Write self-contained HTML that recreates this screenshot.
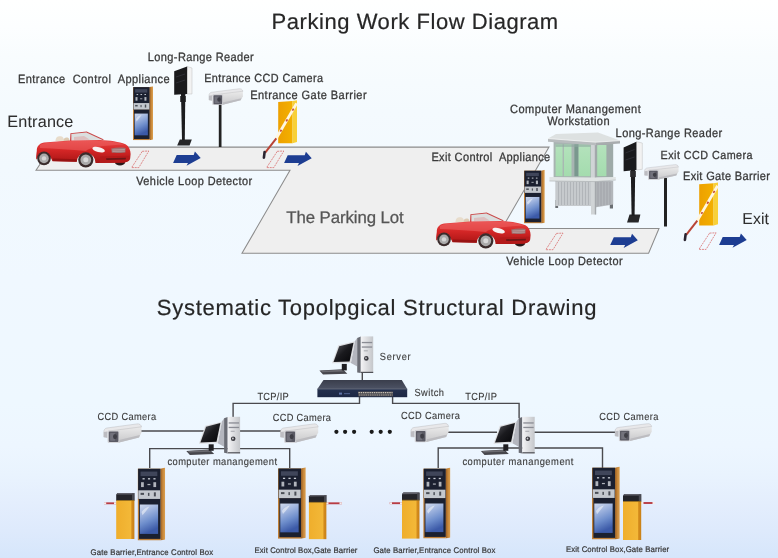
<!DOCTYPE html>
<html><head><meta charset="utf-8"><style>
html,body{margin:0;padding:0;background:#fff;}
svg{display:block;will-change:transform;}
text{font-family:"Liberation Sans",sans-serif;white-space:pre;text-rendering:geometricPrecision;}
</style></head><body>
<svg width="778" height="558" viewBox="0 0 778 558">
<defs>
<linearGradient id="bg" x1="0" y1="0" x2="0" y2="1">
 <stop offset="0" stop-color="#ffffff"/>
 <stop offset="0.05" stop-color="#fcfeff"/>
 <stop offset="0.1" stop-color="#f8fcfe"/>
 <stop offset="0.2" stop-color="#f4fafe"/>
 <stop offset="0.3" stop-color="#f2f9fe"/>
 <stop offset="0.5" stop-color="#f0f8ff"/>
 <stop offset="0.72" stop-color="#eef8ff"/>
 <stop offset="0.8" stop-color="#edf6ff"/>
 <stop offset="0.85" stop-color="#e9f3fe"/>
 <stop offset="0.9" stop-color="#e4eefd"/>
 <stop offset="0.95" stop-color="#deeafc"/>
 <stop offset="1" stop-color="#d6e6fb"/>
</linearGradient>
<linearGradient id="wood" x1="0" y1="0" x2="1" y2="0">
 <stop offset="0" stop-color="#9a5e22"/>
 <stop offset="0.5" stop-color="#c8883a"/>
 <stop offset="1" stop-color="#dca050"/>
</linearGradient>
<linearGradient id="scr" x1="0" y1="0" x2="0.3" y2="1">
 <stop offset="0" stop-color="#d0daee"/>
 <stop offset="0.3" stop-color="#a4b8e0"/>
 <stop offset="0.65" stop-color="#6e8ecc"/>
 <stop offset="1" stop-color="#3c5aa8"/>
</linearGradient>
<linearGradient id="silver" x1="0" y1="0" x2="1" y2="0">
 <stop offset="0" stop-color="#f4f4f6"/>
 <stop offset="1" stop-color="#c4c6ca"/>
</linearGradient>
<linearGradient id="monscr" x1="0" y1="0" x2="1" y2="1">
 <stop offset="0" stop-color="#5a5a60"/>
 <stop offset="0.5" stop-color="#1a1a1e"/>
 <stop offset="1" stop-color="#050508"/>
</linearGradient>
<linearGradient id="camg" x1="0" y1="0" x2="0" y2="1">
 <stop offset="0" stop-color="#eeeeee"/>
 <stop offset="1" stop-color="#c8c8ca"/>
</linearGradient>
<linearGradient id="yel" x1="0" y1="0" x2="1" y2="0">
 <stop offset="0" stop-color="#eda000"/>
 <stop offset="1" stop-color="#f3b000"/>
</linearGradient>
<linearGradient id="yelB" x1="0" y1="0" x2="1" y2="0">
 <stop offset="0" stop-color="#efae2c"/>
 <stop offset="0.8" stop-color="#f3b838"/>
 <stop offset="0.86" stop-color="#d48c1c"/>
 <stop offset="1" stop-color="#c88018"/>
</linearGradient>
<linearGradient id="carbody" x1="0" y1="0" x2="0" y2="1">
 <stop offset="0" stop-color="#e84848"/>
 <stop offset="0.45" stop-color="#d42626"/>
 <stop offset="1" stop-color="#a81414"/>
</linearGradient>
<linearGradient id="glass" x1="0" y1="0" x2="0" y2="1">
 <stop offset="0" stop-color="#b4e2bc"/>
 <stop offset="1" stop-color="#a4dcae"/>
</linearGradient>
<linearGradient id="swtop" x1="0" y1="0" x2="0" y2="1">
 <stop offset="0" stop-color="#3a3e4c"/>
 <stop offset="1" stop-color="#4c5264"/>
</linearGradient>
<linearGradient id="swfront" x1="0" y1="0" x2="0" y2="1">
 <stop offset="0" stop-color="#24304e"/>
 <stop offset="1" stop-color="#1c2744"/>
</linearGradient>

<!-- control box symbol, 28 x 72 -->
<symbol id="ctrl" viewBox="0 0 28 72" preserveAspectRatio="none">
 <polygon points="23.2,1.2 28,0 28,71 23.2,72" fill="url(#wood)"/>
 <rect x="0" y="1.2" width="23.2" height="70.8" fill="#c08038"/>
 <rect x="0.5" y="1.2" width="22.7" height="30" fill="#1b2030"/>
 <rect x="1.4" y="31" width="21.8" height="39.4" fill="#1b2030"/>
 <rect x="3" y="4" width="17" height="4.5" fill="#40465a"/>
 <rect x="5" y="10.5" width="2.2" height="1.3" fill="#c8ccd4"/>
 <rect x="10.5" y="10.5" width="2.2" height="1.3" fill="#c8ccd4"/>
 <rect x="16" y="10.5" width="2.2" height="1.3" fill="#c8ccd4"/>
 <rect x="3.5" y="14.5" width="2.8" height="4.8" fill="#b0b4bc"/>
 <rect x="10" y="16.2" width="3" height="1.2" fill="#b0b4bc"/>
 <rect x="16" y="14.5" width="2.8" height="4.8" fill="#b0b4bc"/>
 <rect x="0.7" y="22.5" width="22.1" height="8.5" fill="#c4c8ce"/>
 <rect x="3" y="25" width="3.5" height="2" fill="#4a4e56"/>
 <rect x="10.5" y="25" width="1.5" height="3" fill="#4a4e56"/>
 <rect x="16.5" y="24.5" width="2" height="4" fill="#4a4e56"/>
 <rect x="2.3" y="36.5" width="18.5" height="29" fill="url(#scr)"/>
 <path d="M4,44 C6,41 9,39 12,38.5 C10,41 8,44 5,47 Z" fill="#eef2f8" opacity="0.6"/>
</symbol>

<!-- blue arrow, origin at bbox left/top -->
<path id="arrow" d="M3.6,3.1 L20.6,3.1 L21.8,-0.4 L27.6,6 L13.4,13.8 L14.9,10.9 L0,10.9 Z" fill="#1d3d92"/>

<!-- loop detector -->
<g id="loop">
 <path d="M10.7,0 L17.2,-0.3 L7.2,16.3 L0,16.3 Z" fill="none" stroke="#d86a6a" stroke-width="0.9" stroke-dasharray="2,0.8" opacity="0.85"/>
</g>

<!-- car, in absolute coords of car 1 -->
<g id="car">
 <!-- far-side front wheel -->
 <ellipse cx="120" cy="162.5" rx="5" ry="3" fill="#2a1a1a"/>
 <!-- seats -->
 <path d="M55.5,141 C55.5,137 58,135.8 61,136.2 C63,136.6 64,138 64,141 Z" fill="#e8dccb"/>
 <path d="M63.5,141 C63.5,138 65.5,137.2 67.5,137.6 C69,138 69.5,139.5 69.5,141 Z" fill="#dccab2"/>
 <!-- windshield glass -->
 <path d="M71.5,133.8 L86.5,132.4 L103,139.8 L71.5,140.6 Z" fill="#d8dcdc" opacity="0.9"/>
 <path d="M74,137 L84,136 L90,139.8 L74,140.2 Z" fill="#e0a0a0" opacity="0.5"/>
 <!-- windshield frame -->
 <path d="M70,141 L70.4,133.2 L86.7,131.6 L104,139.6 L102.6,139.9 L86.3,132.6 L71.4,134 L71.4,141 Z" fill="#c84848"/>
 <!-- body -->
 <path d="M36.8,151 C36.8,146.5 39,143.6 44,142.6 L70,140.4 L100,140 C110,140.4 119,141.8 125.5,144.2 C129,146.3 130.6,150 130.6,154 L130.2,158.5 C129.6,161 127,162.4 123,162.8 L95.5,163 A9.2,9.2 0 0 0 76.6,161.8 L52.5,161.2 A8.8,8.8 0 0 0 36.2,159.8 C36,157 36.4,153.5 36.8,151 Z" fill="url(#carbody)"/>
 <!-- top highlight (rear deck + hood) -->
 <path d="M40,145 C42,143.5 45,142.9 50,142.4 L70,141 L100,140.8 C110,141.2 118,142.4 124,144.6 C118,145 108,145.4 100,146.5 C92,147.5 88,149 86,151 C70,149.5 55,148.5 40,148 Z" fill="#ee6262" opacity="0.55"/>
 <!-- lower sill -->
 <path d="M53,158.5 L77,159.3 L76.8,161.7 L52.6,161.1 Z" fill="#981212"/>
 <!-- headlight -->
 <ellipse cx="98.6" cy="149.6" rx="6.4" ry="2.5" fill="#f6f2f2" transform="rotate(14 98.6 149.6)"/>
 <!-- grille -->
 <path d="M111.2,148.4 C116,147.4 121,147.3 125.6,148 L125.4,152.4 C121,153 116,153.1 111.8,152.8 Z" fill="#a07070"/>
 <path d="M112.3,150 L124.8,149.5 M112.5,151.4 L124.8,151.1" stroke="#d0c4c4" stroke-width="0.5"/>
 <!-- front lower intake -->
 <path d="M100,156.5 L129.8,155.8 L129.4,159.6 C128,161.5 126,162.3 123,162.6 L100,162.8 Z" fill="#b41a1a"/>
 <path d="M106,158.2 L126,157.8 L125.6,159.6 L106.4,160 Z" fill="#6c1616"/>
 <!-- wheels -->
 <circle cx="44" cy="158.4" r="6.8" fill="#3a2c2c"/>
 <circle cx="44" cy="158.4" r="4.8" fill="#aaaaaa"/>
 <circle cx="44" cy="158.4" r="2.2" fill="#d6d6d6"/>
 <circle cx="85.8" cy="159.8" r="7.6" fill="#3a2c2c"/>
 <circle cx="85.8" cy="159.8" r="5.4" fill="#aaaaaa"/>
 <circle cx="85.8" cy="159.8" r="2.5" fill="#d8d8d8"/>
</g>

<!-- CCD camera housing, 38 x 19 -->
<g id="cam">
 <path d="M4.2,7 L35,1.6 L38,3.2 L38,9 L35.5,13.8 L15.5,19 L4.3,19 Z" fill="url(#camg)"/>
 <path d="M15.5,16.5 L36.5,11.5 L35.5,13.8 L15.5,19 Z" fill="#bcbcc0"/>
 <path d="M0.3,13.5 L0.3,8.4 C0.3,6.3 1.3,4.8 3.3,4.4 L33.6,0.3 C35.8,0 37.6,1 38,3.4 L36.5,3.4 L5.5,7.4 C4.2,7.7 3.6,9 3.6,10.5 L3.6,14 Z" fill="#e8e8ea" stroke="#b0b0b4" stroke-width="0.4"/>
 <path d="M0.3,8.5 L3.6,8 L3.6,14 L0.3,13.5 Z" fill="#bdbdc2"/>
 <rect x="4.3" y="6.8" width="11.6" height="12.4" rx="1.2" fill="#d2d2d6"/>
 <rect x="5.3" y="8" width="9.6" height="10.4" rx="0.8" fill="#5a5a64"/>
 <rect x="6.6" y="9.3" width="5" height="7.8" rx="0.6" fill="#72727c"/>
 <ellipse cx="11.5" cy="13" rx="2" ry="2.6" fill="#3e3e46"/>
</g>

<!-- PC, origin = tower front top-left -->
<g id="pc">
 <polygon points="-41.4,34.1 -18,32.8 -13.5,37.3 -37.8,38.2" fill="#46464c"/>
 <polygon points="-40,34.3 -18.5,33.3 -17,35 -38.5,35.8" fill="#6a6a70"/>
 <rect x="-19" y="27.5" width="5" height="6.5" fill="#1e1e22"/>
 <polygon points="-5.9,4.9 -3.6,1.5 -3.6,30 -9.9,26.5" fill="#b4b6be"/>
 <polygon points="-28.8,26.9 -22.5,8.9 -5.9,4.9 -9.9,26.5" fill="#dcdde0"/>
 <polygon points="-27.3,25.7 -21.6,9.9 -7.3,6.3 -11.2,25" fill="url(#monscr)"/>
 <polygon points="-3.6,1.5 0,0.2 0,36.6 -3.6,36" fill="#6a6c74"/>
 <rect x="0" y="0" width="12.4" height="36.6" fill="url(#silver)"/>
 <rect x="1" y="5.5" width="10.4" height="1.3" fill="#8a8c94"/>
 <rect x="1" y="10" width="10.4" height="1.3" fill="#8a8c94"/>
 <rect x="3" y="14" width="4" height="0.9" fill="#a0a2a8"/>
 <circle cx="5.5" cy="22" r="2.3" fill="#3a3a40"/>
 <circle cx="5.2" cy="21.7" r="0.9" fill="#d0d0d4"/>
 <rect x="0" y="35.4" width="12.4" height="1.2" fill="#505258"/>
</g>

<!-- top gate barrier (entrance) -->
<g id="gateT">
 <polygon points="278.2,102 292.6,101 292.6,143.2 278.2,143.2" fill="url(#yel)"/>
 <polygon points="292.6,101 297,100.2 297,142 292.6,143.2" fill="#f8d038"/>
 <path d="M296.6,103.4 L276,138.8" stroke="#fff6e0" stroke-width="2.8"/>
 <path d="M293.6,108.6 L292.4,110.6 M287.4,119.4 L286.2,121.4 M281.4,129.8 L280.4,131.6" stroke="#c85038" stroke-width="1.8"/>
 <path d="M276.3,138.4 L265.2,152.6" stroke="#b84436" stroke-width="2"/>
 <path d="M264.6,152 L263.9,157.6" stroke="#2a2430" stroke-width="2.6" stroke-linecap="round"/>
</g>

<!-- bottom gate barrier cabinet, origin top-left of cap, 19 x 46 -->
<g id="gateB">
 <rect x="0" y="7.6" width="18.2" height="38.4" fill="url(#yelB)"/>
 <polygon points="0,1.6 1.5,0 18.2,0 18.2,7.6 0,7.6" fill="#24242a"/>
 <polygon points="0,1.6 1.5,0 18.2,0 17.7,1.4" fill="#60606a"/>
 <rect x="15.8" y="0.5" width="2.4" height="7" fill="#4a4a52"/>
 <rect x="0" y="7.2" width="18.2" height="0.8" fill="#a07010"/>
</g>
</defs>

<rect x="0" y="0" width="778" height="558" fill="url(#bg)"/>

<!-- road -->
<polygon points="36,170.3 51.4,147.1 549,147.1 502,228.4 659,228.4 648.6,253.3 242,253.3 290,170.3" fill="#efefef" stroke="#8c8c8c" stroke-width="1.05" stroke-linejoin="miter"/>

<!-- loop detectors -->
<use href="#loop" x="131.6" y="151.3"/>
<use href="#loop" x="266.6" y="151.3"/>
<use href="#loop" x="545.8" y="233.4"/>
<use href="#loop" x="698.9" y="233.1"/>

<!-- arrows -->
<use href="#arrow" x="173.1" y="152"/>
<use href="#arrow" x="284.1" y="152.2"/>
<use href="#arrow" x="610.2" y="234.2"/>
<use href="#arrow" x="719.1" y="234"/>

<!-- entrance control appliance -->
<use href="#ctrl" x="133" y="86.2" width="20" height="54"/>

<!-- long range reader entrance -->
<g>
 <polygon points="177.2,145.6 179.8,139.4 191.8,139.4 189.6,145.6" fill="#262628"/>
 <rect x="180.2" y="96" width="5.6" height="6" fill="#2a2a2c"/>
 <polygon points="181,94 185.3,94 184.8,140 182,140" fill="#1c1c1e"/>
 <polygon points="187.1,66.5 192,68 192,94 187.1,94" fill="#f2f2f2" stroke="#b0b0b0" stroke-width="0.4"/>
 <polygon points="174.2,71.3 187.1,66.5 187.1,94 174.2,94.7" fill="#1a1a1c"/>
 <path d="M176,77 L185,74 M176,83 L185,80" stroke="#3c3c44" stroke-width="0.6"/>
</g>

<!-- entrance camera -->
<rect x="218.8" y="103" width="2.7" height="44" fill="#222"/>
<use href="#cam" transform="translate(208.7,88.5) scale(0.9,0.85)"/>

<!-- entrance gate -->
<use href="#gateT"/>

<!-- car 1 -->
<use href="#car"/>

<!-- booth -->
<g>
 <!-- legs -->
 <rect x="555.3" y="200" width="2.8" height="8" fill="#6a6e72"/>
 <rect x="609.8" y="200" width="3.2" height="8.5" fill="#6a6e72"/>
 <!-- lower body -->
 <rect x="555.3" y="181" width="37" height="25" fill="#c6cacd"/>
 <polygon points="594.5,181 613.2,181 613.2,204.5 594.5,207.5" fill="#b2b6ba"/>
 <path d="M558.5,182 V205 M561.5,182 V205 M564.5,182 V205 M567.5,182 V205 M570.5,182 V205 M573.5,182 V205 M576.5,182 V205 M579.5,182 V205 M582.5,182 V205 M585.5,182 V205 M588.5,182 V205" stroke="#a8acb0" stroke-width="0.7"/>
 <path d="M598,182 V206 M601,182 V206 M604,182 V205 M607,182 V205 M610,182 V204.5" stroke="#989ca0" stroke-width="0.7"/>
 <!-- upper body -->
 <rect x="553.6" y="142" width="41" height="36" fill="#a8b4b2"/>
 <polygon points="594.5,142 613.2,142 613.2,177.5 594.5,177.8" fill="#9eaaa8"/>
 <rect x="555.6" y="144.4" width="7" height="31.8" fill="url(#glass)"/>
 <rect x="563.9" y="144.4" width="7.6" height="31.8" fill="url(#glass)"/>
 <rect x="574.4" y="144.4" width="4.2" height="31.8" fill="#7a988e"/>
 <rect x="578.6" y="144.4" width="11.8" height="31.8" fill="url(#glass)"/>
 <rect x="597.2" y="145" width="9.2" height="31.2" fill="url(#glass)"/>
 <rect x="555.6" y="144.4" width="35" height="2.5" fill="#8ea8a0" opacity="0.6"/>
 <!-- corner post -->
 <rect x="591" y="142" width="5" height="72.5" fill="#d0d4d6"/>
 <rect x="594.8" y="142" width="1.4" height="72.5" fill="#a4a8ac"/>
 <!-- ledge -->
 <polygon points="549.4,177 596,177.6 615.8,177 615.8,180 596,181.6 549.4,181" fill="#e0e4e4"/>
 <path d="M549.4,181 L596,181.6 L615.8,180" stroke="#a8acae" stroke-width="0.6" fill="none"/>
 <!-- roof -->
 <polygon points="548,138.5 556,134 598,132.6 620,140.6 596,142.2" fill="#dde1e1"/>
 <polygon points="548,138.5 596,142.2 596,145.2 548,141.8" fill="#b8bcbe"/>
 <polygon points="596,142.2 620,140.6 620,143.6 596,145.2" fill="#a8acae"/>
 <path d="M548,138.5 L596,142.2 L620,140.6" stroke="#f2f4f4" stroke-width="0.8" fill="none"/>
</g>

<!-- exit control appliance -->
<use href="#ctrl" x="524" y="169.8" width="20.8" height="53.6"/>

<!-- car 2 -->
<use href="#car" transform="translate(400,81)"/>

<!-- exit long range reader -->
<g>
 <polygon points="627,222.5 629.5,214.6 640.4,214.6 638.5,222.5" fill="#262628"/>
 <polygon points="630.8,170 635.2,170 634.6,216 631.6,216" fill="#1c1c1e"/>
 <rect x="630.2" y="171" width="5.6" height="6" fill="#2a2a2c"/>
 <polygon points="636.4,141.7 642.3,143 642.3,169.3 636.4,169.9" fill="#f2f2f2" stroke="#b0b0b0" stroke-width="0.4"/>
 <polygon points="623.6,147.6 636.4,141.7 636.4,169.9 623.6,171.3" fill="#1a1a1c"/>
 <path d="M625.5,153 L634.5,149.5 M625.5,160 L634.5,157" stroke="#3c3c44" stroke-width="0.6"/>
</g>

<!-- exit camera -->
<rect x="664" y="178" width="3" height="48.5" fill="#222"/>
<use href="#cam" transform="translate(644.3,164.4) scale(0.9,0.8)"/>

<!-- exit gate -->
<use href="#gateT" transform="translate(421,82.3)"/>

<!-- ======== bottom section ======== -->
<g stroke="#4a4a4e" stroke-width="1.4" fill="none">
 <!-- switch to computers -->
 <polyline points="359.5,397 359.5,403.4 233.1,403.4 233.1,418"/>
 <polyline points="392.6,397 392.6,403.4 519.1,403.4 519.1,418"/>
 <!-- server to switch -->
 <line x1="362.3" y1="372" x2="362.3" y2="380.5"/>
 <!-- computer 1 to cameras -->
 <line x1="141" y1="431" x2="204" y2="431"/>
 <line x1="239" y1="431" x2="281" y2="431"/>
 <!-- computer 1 to boxes -->
 <polyline points="149.7,468 149.7,448.6 289.7,448.6 289.7,468"/>
 <!-- computer 2 -->
 <line x1="448" y1="432.2" x2="497" y2="432.2"/>
 <line x1="534" y1="432.2" x2="615" y2="432.2"/>
 <polyline points="438.2,468 438.2,448 602.5,448 602.5,468"/>
</g>

<!-- dots -->
<g fill="#1a1a1a">
 <circle cx="336.4" cy="431.8" r="2.1"/>
 <circle cx="345.1" cy="431.8" r="2.1"/>
 <circle cx="354.1" cy="431.8" r="2.1"/>
 <circle cx="371.7" cy="431.8" r="2.1"/>
 <circle cx="380.7" cy="431.8" r="2.1"/>
 <circle cx="389.8" cy="431.8" r="2.1"/>
</g>

<!-- switch -->
<g>
 <polygon points="323.5,380.1 401.8,380.1 407.2,389 317.4,389" fill="url(#swtop)"/>
 <rect x="317.4" y="389" width="89.8" height="8.2" fill="url(#swfront)"/>
 <rect x="317.4" y="388.6" width="89.8" height="0.8" fill="#6a7080"/>
 <rect x="358" y="391.4" width="35" height="5" fill="#4a4a50"/>
 <path d="M358.5,392.6 H392.5" stroke="#c8c0b4" stroke-width="1.2" stroke-dasharray="1.4,0.8"/>
 <path d="M359,395 H392.5" stroke="#a8a098" stroke-width="1.2" stroke-dasharray="1.4,0.8"/>
 <rect x="339" y="392.6" width="3" height="2" fill="#7088c0" opacity="0.8"/>
 <rect x="344" y="393" width="6" height="1.2" fill="#5a6ea0" opacity="0.7"/>
</g>

<!-- computers -->
<use href="#pc" transform="translate(360.8,336.4)"/>
<use href="#pc" transform="translate(227.7,416.8)"/>
<use href="#pc" transform="translate(522.3,416.8)"/>

<!-- cameras bottom -->
<use href="#cam" transform="translate(103.5,423.6)"/>
<use href="#cam" transform="translate(280.2,423.6)"/>
<use href="#cam" transform="translate(410.6,423.1)"/>
<use href="#cam" transform="translate(614.8,423.4) scale(0.97,0.93)"/>

<!-- control boxes bottom -->
<use href="#ctrl" x="137.6" y="467.5" width="27.6" height="73"/>
<use href="#ctrl" x="278" y="467.3" width="27.8" height="71.5"/>
<use href="#ctrl" x="423.2" y="467.5" width="27.2" height="71"/>
<use href="#ctrl" x="592" y="466.5" width="27.8" height="73"/>

<!-- gate barriers bottom -->
<path d="M104,503.3 H116.5" stroke="#b83c44" stroke-width="1.9"/>
<path d="M104,503.3 H106.2 M114,503.3 H116.5" stroke="#f4ecec" stroke-width="1.9"/>
<use href="#gateB" transform="translate(116.2,493)"/>
<path d="M326,503.3 H341.8" stroke="#b83c44" stroke-width="1.9"/>
<path d="M326,503.3 H328.5 M339.5,503.3 H341.8" stroke="#f4ecec" stroke-width="1.9"/>
<use href="#gateB" transform="translate(308.9,495) scale(0.96,0.96)"/>
<path d="M389.7,503.2 H402.5" stroke="#b83c44" stroke-width="1.9"/>
<path d="M389.7,503.2 H392 M400,503.2 H402.5" stroke="#f4ecec" stroke-width="1.9"/>
<use href="#gateB" transform="translate(402,492.6) scale(0.96,1)"/>
<path d="M641,503 H655" stroke="#b83c44" stroke-width="1.9"/>
<path d="M641,503 H643.5 M652.5,503 H655" stroke="#f4ecec" stroke-width="1.9"/>
<use href="#gateB" transform="translate(623,494) scale(1.0,1)"/>

<g transform="translate(271.60,29.3) scale(1.0,1)"><text x="0" y="0" font-size="22" fill="#262626" stroke="#262626" stroke-width="0.2" textLength="286.60" lengthAdjust="spacing">Parking Work Flow Diagram</text></g>
<g transform="translate(147.80,60.6) scale(0.92,1)"><text x="0" y="0" font-size="12" fill="#3a3a3a" stroke="#3a3a3a" stroke-width="0.3" textLength="115.22" lengthAdjust="spacing">Long-Range Reader</text></g>
<g transform="translate(18.00,83.1) scale(0.92,1)"><text x="0" y="0" font-size="12" fill="#3a3a3a" stroke="#3a3a3a" stroke-width="0.3" textLength="164.78" lengthAdjust="spacing">Entrance  Control  Appliance</text></g>
<g transform="translate(204.20,81.6) scale(0.92,1)"><text x="0" y="0" font-size="11.8" fill="#3a3a3a" stroke="#3a3a3a" stroke-width="0.3" textLength="129.13" lengthAdjust="spacing">Entrance CCD Camera</text></g>
<g transform="translate(250.20,99.3) scale(0.92,1)"><text x="0" y="0" font-size="12" fill="#3a3a3a" stroke="#3a3a3a" stroke-width="0.3" textLength="126.52" lengthAdjust="spacing">Entrance Gate Barrier</text></g>
<g transform="translate(7.20,127.3) scale(1.0,1)"><text x="0" y="0" font-size="16.2" fill="#2e2e2e" stroke="#2e2e2e" stroke-width="0.06" textLength="66.20" lengthAdjust="spacing">Entrance</text></g>
<g transform="translate(136.20,185) scale(0.92,1)"><text x="0" y="0" font-size="11.9" fill="#3a3a3a" stroke="#3a3a3a" stroke-width="0.3" textLength="126.09" lengthAdjust="spacing">Vehicle Loop Detector</text></g>
<g transform="translate(286.20,222.9) scale(1.0,1)"><text x="0" y="0" font-size="16.8" fill="#555555" stroke="#555555" stroke-width="0.25" textLength="117.60" lengthAdjust="spacing">The Parking Lot</text></g>
<g transform="translate(510.00,112.7) scale(0.92,1)"><text x="0" y="0" font-size="12" fill="#3a3a3a" stroke="#3a3a3a" stroke-width="0.3" textLength="142.17" lengthAdjust="spacing">Computer Manangement</text></g>
<g transform="translate(547.20,124.9) scale(0.92,1)"><text x="0" y="0" font-size="12" fill="#3a3a3a" stroke="#3a3a3a" stroke-width="0.3" textLength="67.83" lengthAdjust="spacing">Workstation</text></g>
<g transform="translate(615.60,137) scale(0.92,1)"><text x="0" y="0" font-size="12" fill="#3a3a3a" stroke="#3a3a3a" stroke-width="0.3" textLength="115.87" lengthAdjust="spacing">Long-Range Reader</text></g>
<g transform="translate(431.40,161.4) scale(0.92,1)"><text x="0" y="0" font-size="12" fill="#3a3a3a" stroke="#3a3a3a" stroke-width="0.3" textLength="129.13" lengthAdjust="spacing">Exit Control  Appliance</text></g>
<g transform="translate(660.60,158.7) scale(0.92,1)"><text x="0" y="0" font-size="11.7" fill="#3a3a3a" stroke="#3a3a3a" stroke-width="0.3" textLength="100.00" lengthAdjust="spacing">Exit CCD Camera</text></g>
<g transform="translate(683.00,179.8) scale(0.92,1)"><text x="0" y="0" font-size="12" fill="#3a3a3a" stroke="#3a3a3a" stroke-width="0.3" textLength="94.57" lengthAdjust="spacing">Exit Gate Barrier</text></g>
<g transform="translate(742.20,223.8) scale(1.0,1)"><text x="0" y="0" font-size="15.8" fill="#2e2e2e" stroke="#2e2e2e" stroke-width="0.06" textLength="26.80" lengthAdjust="spacing">Exit</text></g>
<g transform="translate(506.20,264.7) scale(0.92,1)"><text x="0" y="0" font-size="11.9" fill="#3a3a3a" stroke="#3a3a3a" stroke-width="0.3" textLength="126.52" lengthAdjust="spacing">Vehicle Loop Detector</text></g>
<g transform="translate(156.80,315) scale(1.0,1)"><text x="0" y="0" font-size="22" fill="#262626" stroke="#262626" stroke-width="0.2" textLength="439.60" lengthAdjust="spacing">Systematic Topolpgical Structural Drawing</text></g>
<g transform="translate(379.80,360) scale(0.9,1)"><text x="0" y="0" font-size="10.3" fill="#3a3a3a" stroke="#3a3a3a" stroke-width="0.12" textLength="34.22" lengthAdjust="spacing">Server</text></g>
<g transform="translate(414.40,395.5) scale(0.9,1)"><text x="0" y="0" font-size="10.3" fill="#3a3a3a" stroke="#3a3a3a" stroke-width="0.12" textLength="32.89" lengthAdjust="spacing">Switch</text></g>
<g transform="translate(257.40,399.9) scale(0.9,1)"><text x="0" y="0" font-size="10.3" fill="#3a3a3a" stroke="#3a3a3a" stroke-width="0.12" textLength="34.89" lengthAdjust="spacing">TCP/IP</text></g>
<g transform="translate(465.20,399.9) scale(0.9,1)"><text x="0" y="0" font-size="10.3" fill="#3a3a3a" stroke="#3a3a3a" stroke-width="0.12" textLength="35.33" lengthAdjust="spacing">TCP/IP</text></g>
<g transform="translate(97.40,420.2) scale(0.9,1)"><text x="0" y="0" font-size="10.3" fill="#3a3a3a" stroke="#3a3a3a" stroke-width="0.12" textLength="65.33" lengthAdjust="spacing">CCD Camera</text></g>
<g transform="translate(272.80,420.5) scale(0.9,1)"><text x="0" y="0" font-size="10.3" fill="#3a3a3a" stroke="#3a3a3a" stroke-width="0.12" textLength="64.67" lengthAdjust="spacing">CCD Camera</text></g>
<g transform="translate(401.00,418.9) scale(0.9,1)"><text x="0" y="0" font-size="10.3" fill="#3a3a3a" stroke="#3a3a3a" stroke-width="0.12" textLength="65.33" lengthAdjust="spacing">CCD Camera</text></g>
<g transform="translate(599.20,420) scale(0.9,1)"><text x="0" y="0" font-size="10.3" fill="#3a3a3a" stroke="#3a3a3a" stroke-width="0.12" textLength="65.78" lengthAdjust="spacing">CCD Camera</text></g>
<g transform="translate(167.40,465.2) scale(0.9,1)"><text x="0" y="0" font-size="10.4" fill="#3a3a3a" stroke="#3a3a3a" stroke-width="0.12" textLength="121.78" lengthAdjust="spacing">computer manangement</text></g>
<g transform="translate(462.40,465) scale(0.9,1)"><text x="0" y="0" font-size="10.4" fill="#3a3a3a" stroke="#3a3a3a" stroke-width="0.12" textLength="123.33" lengthAdjust="spacing">computer manangement</text></g>
<g transform="translate(90.60,554.7) scale(0.96,1)"><text x="0" y="0" font-size="8.1" fill="#383838" stroke="#383838" stroke-width="0.22" textLength="127.71" lengthAdjust="spacing">Gate Barrier,Entrance Control Box</text></g>
<g transform="translate(254.60,552.7) scale(0.96,1)"><text x="0" y="0" font-size="8.1" fill="#383838" stroke="#383838" stroke-width="0.22" textLength="107.08" lengthAdjust="spacing">Exit Control Box,Gate Barrier</text></g>
<g transform="translate(373.40,552.7) scale(0.96,1)"><text x="0" y="0" font-size="8.1" fill="#383838" stroke="#383838" stroke-width="0.22" textLength="127.08" lengthAdjust="spacing">Gate Barrier,Entrance Control Box</text></g>
<g transform="translate(566.00,551.7) scale(0.96,1)"><text x="0" y="0" font-size="8.1" fill="#383838" stroke="#383838" stroke-width="0.22" textLength="107.50" lengthAdjust="spacing">Exit Control Box,Gate Barrier</text></g>
</svg>
</body></html>
